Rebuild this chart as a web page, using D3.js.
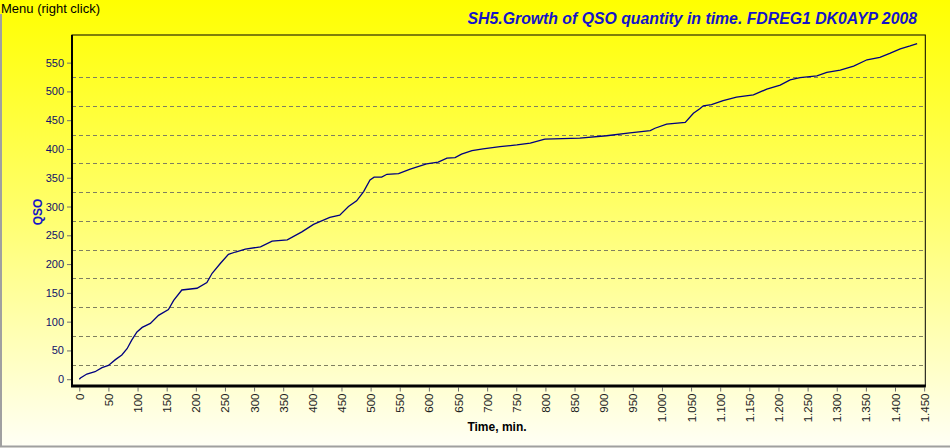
<!DOCTYPE html>
<html><head><meta charset="utf-8">
<script src="https://cdn.jsdelivr.net/npm/d3@7"></script>
<style>body{margin:0;padding:0;overflow:hidden;background:#fff}svg{display:block}</style>
</head><body>
<script>
const times = [0,2,13,27,39,50,62,73,82,90,99,108,122,136,153,162,176,202,219,228,242,256,268,285,311,331,357,382,402,430,447,462,476,488,499,506,519,528,548,568,596,616,631,645,656,674,693,722,751,774,799,859,905,945,980,988,1008,1040,1054,1065,1071,1085,1105,1128,1157,1180,1203,1220,1237,1266,1283,1306,1329,1352,1374,1391,1409,1426,1438];
const qso   = [0,2,9,13,20,24,34,42,53,68,82,90,97,111,121,137,155,158,168,184,201,217,221,226,230,240,242,256,269,281,285,300,310,326,346,351,351,356,357,365,374,377,384,385,391,397,400,404,407,410,417,419,423,428,432,436,443,446,462,470,475,477,484,490,494,504,511,520,524,527,533,537,544,555,559,566,574,579,583];
const xTicks = d3.range(0,1451,50);
const yTicks = d3.range(0,551,50);
const gridVals = d3.range(25,526,50);
const title = "SH5.Growth of QSO quantity in time. FDREG1 DK0AYP 2008";
const xLabel = "Time, min.";
const yLabel = "QSO";
const menuText = "Menu (right click)";

const W=950,H=448;
const L=72,R=925.3,T=35,B=386;
const svg=d3.select("body").append("svg").attr("width",W).attr("height",H)
  .style("font-family","'Liberation Sans', Arial, sans-serif");
const defs=svg.append("defs");
const g1=defs.append("linearGradient").attr("id","bg").attr("x1",0).attr("y1",0).attr("x2",0).attr("y2",1);
g1.append("stop").attr("offset","0%").attr("stop-color","#ffff00");
g1.append("stop").attr("offset","45%").attr("stop-color","#ffff66");
g1.append("stop").attr("offset","100%").attr("stop-color","#fffff6");
svg.append("rect").attr("width",W).attr("height",H).attr("fill","url(#bg)");
svg.append("line").attr("x1",1).attr("x2",1).attr("y1",14).attr("y2",447).attr("stroke","#a0a0a0").attr("stroke-width",2);
svg.append("line").attr("x1",0).attr("x2",W).attr("y1",446.5).attr("y2",446.5).attr("stroke","#a0a0a0").attr("stroke-width",2);

const x=d3.scaleLinear().domain([-12.5,1452]).range([L,R]);
const y=d3.scaleLinear().domain([-11.8,598]).range([B,T]);

// grid
svg.append("g").selectAll("line").data(gridVals).join("line")
  .attr("x1",L).attr("x2",R).attr("y1",d=>Math.round(y(d))+0.5).attr("y2",d=>Math.round(y(d))+0.5)
  .attr("stroke","#7f7f60").attr("stroke-width",1).attr("stroke-dasharray","4,3");

// line
svg.append("path").datum(times.map((t,i)=>[t,qso[i]]))
  .attr("fill","none").attr("stroke","#000080").attr("stroke-width",1.3)
  .attr("d",d3.line().x(d=>x(d[0])).y(d=>y(d[1])));

// frame
svg.append("rect").attr("x",L).attr("y",T).attr("width",R-L).attr("height",B-T)
  .attr("fill","none").attr("stroke","#000").attr("stroke-width",1);

// axes
const fmt=d=>d3.format(",")(d).replace(/,/g,".");
const ya=svg.append("g").attr("transform",`translate(${L-1},0)`)
  .call(d3.axisLeft(y).tickValues(yTicks).tickSize(4).tickPadding(3));
ya.select(".domain").remove();
ya.selectAll(".tick line").attr("stroke","#707070");
ya.selectAll("text").attr("fill","#10106a").style("font-size","11px");
svg.append("line").attr("x1",L).attr("x2",L).attr("y1",T).attr("y2",B+1).attr("stroke","#000").attr("stroke-width",2);

const xa=svg.append("g").attr("transform",`translate(0,${B+1.5})`)
  .call(d3.axisBottom(x).tickValues(xTicks).tickFormat(fmt).tickSize(4));
xa.select(".domain").remove();
xa.selectAll(".tick line").attr("stroke","#707070");
xa.selectAll("text").attr("fill","#202020").style("font-size","11.5px")
  .attr("transform","rotate(-90)").attr("text-anchor","end").attr("x",-6).attr("y",0).attr("dy","0.35em");
svg.append("line").attr("x1",L-1).attr("x2",R+0.5).attr("y1",B).attr("y2",B).attr("stroke","#000").attr("stroke-width",3);

// texts
svg.append("text").attr("x",1).attr("y",13).text(menuText).style("font-size","13px").attr("fill","#000");
svg.append("text").attr("x",917).attr("y",24).attr("text-anchor","end").text(title)
  .style("font-size","15.8px").style("font-weight","bold").style("font-style","italic").attr("fill","#1414c8");
svg.append("text").attr("x",497).attr("y",431).attr("text-anchor","middle").text(xLabel)
  .style("font-size","12px").style("font-weight","bold").attr("fill","#000");
svg.append("text").attr("transform","translate(42,212) rotate(-90)").attr("text-anchor","middle").text(yLabel)
  .style("font-size","12px").style("font-weight","bold").attr("fill","#1414c8");
</script>
</body></html>
